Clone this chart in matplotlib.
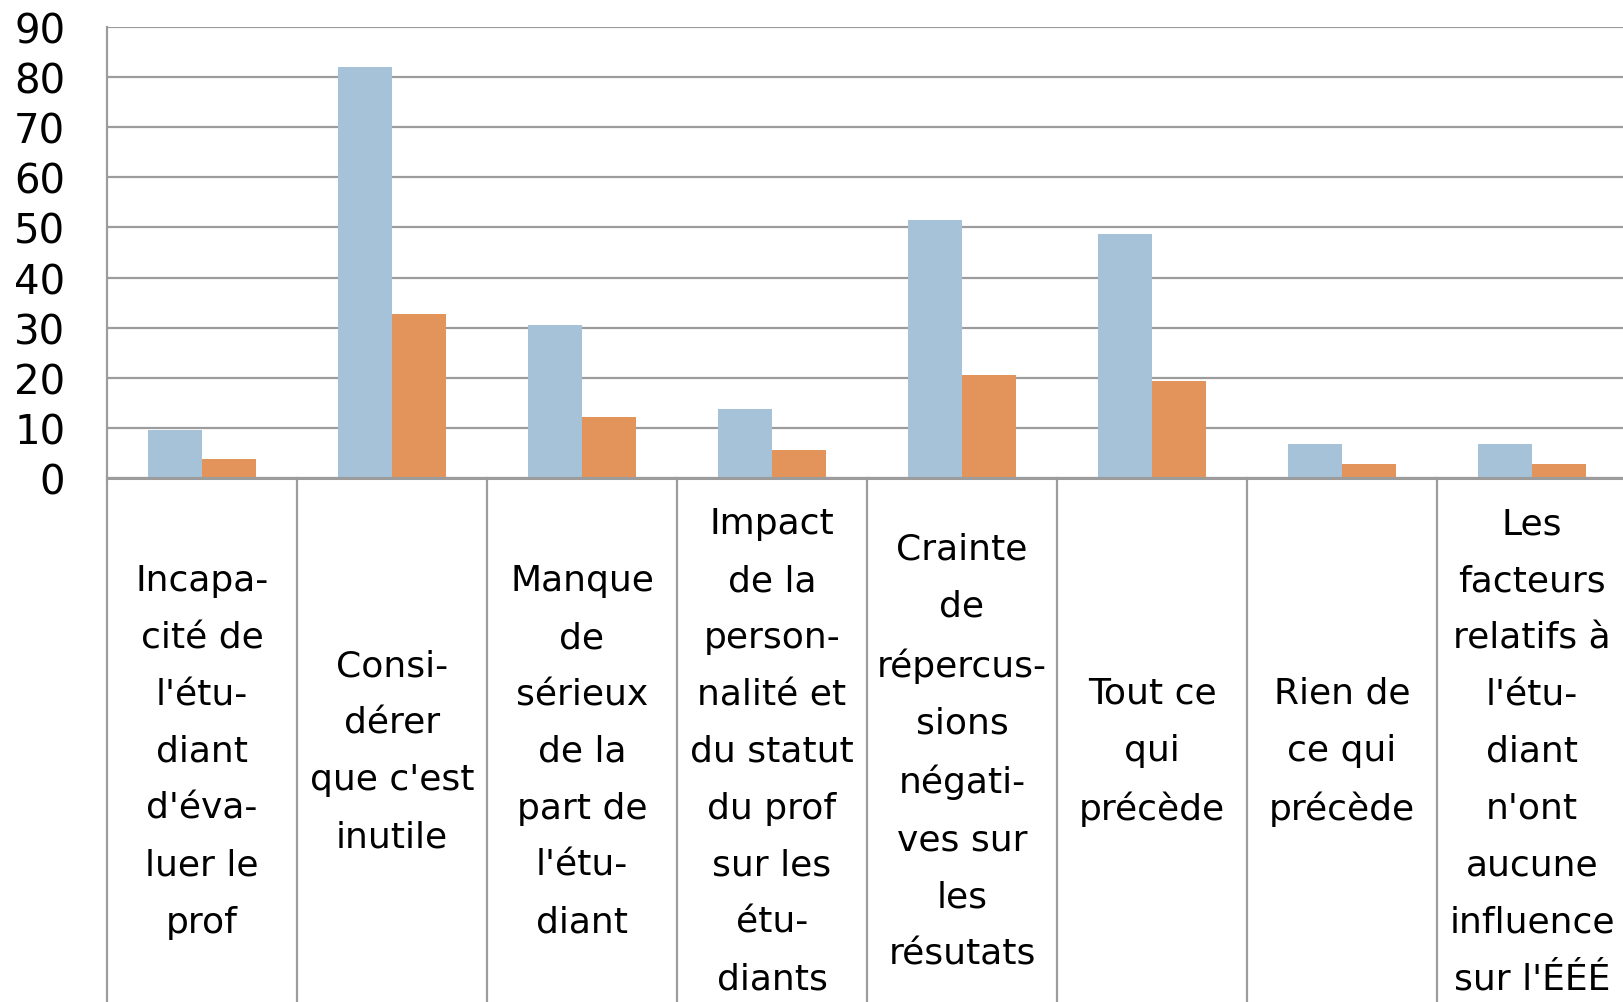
import matplotlib.pyplot as plt
import matplotlib.transforms as mtransforms

categories = [
    "Incapa-\ncité de\nl'étu-\ndiant\nd'éva-\nluer le\nprof",
    "Consi-\ndérer\nque c'est\ninutile",
    "Manque\nde\nsérieux\nde la\npart de\nl'étu-\ndiant",
    "Impact\nde la\nperson-\nnalité et\ndu statut\ndu prof\nsur les\nétu-\ndiants",
    "Crainte\nde\nrépercus-\nsions\nnégati-\nves sur\nles\nrésutats",
    "Tout ce\nqui\nprécède",
    "Rien de\nce qui\nprécède",
    "Les\nfacteurs\nrelatifs à\nl'étu-\ndiant\nn'ont\naucune\ninfluence\nsur l'ÉÉÉ",
]
series_a = [9.6, 82, 30.5, 13.8, 51.4, 48.6, 6.8, 6.8]
series_b = [3.8, 32.7, 12.2, 5.6, 20.6, 19.4, 2.8, 2.8]
yticks = list(range(0, 100, 10))

BLUE = '#a5c2d9'
ORANGE = '#e3945a'
GRID = '#9c9c9c'

plt.rcParams['font.family'] = ['DejaVu Sans']

W, H = 1624, 1003
fig = plt.figure(figsize=(W / 100, H / 100), dpi=100)
ax = fig.add_axes([107 / W, 1 - 479 / H, (1627 - 107) / W, (479 - 28) / H])

n = len(categories)
x = list(range(n))
bw = 0.284
ax.bar([i - bw / 2 for i in x], series_a, width=bw, color=BLUE, zorder=3)
ax.bar([i + bw / 2 for i in x], series_b, width=bw, color=ORANGE, zorder=3)

ax.set_xlim(-0.5, n - 0.5)
ax.set_ylim(0, 90)
ax.set_yticks(yticks)
ax.set_xticks([])
ax.tick_params(axis='y', length=0, pad=30, labelsize=29)
ax.yaxis.grid(True, color=GRID, lw=1.6, zorder=0)
for s in ax.spines.values():
    s.set_visible(False)

# baseline + category separators running down into the label area
trans = mtransforms.blended_transform_factory(ax.transData, ax.transAxes)
ax.axhline(0, color=GRID, lw=2.2, zorder=4, clip_on=False)
depth = -(H - 479) / (479 - 28)
for i in range(n + 1):
    ax.plot([i - 0.5, i - 0.5], [0 if i else 1, depth], transform=trans,
            color=GRID, lw=1.6, clip_on=False, zorder=1)

label_y = -(752 - 479) / (479 - 28)
for i, lab in enumerate(categories):
    ax.text(i, label_y, lab, transform=trans, ha='center', va='center',
            fontsize=26, linespacing=1.85)

fig.savefig('out.png', dpi=100)
